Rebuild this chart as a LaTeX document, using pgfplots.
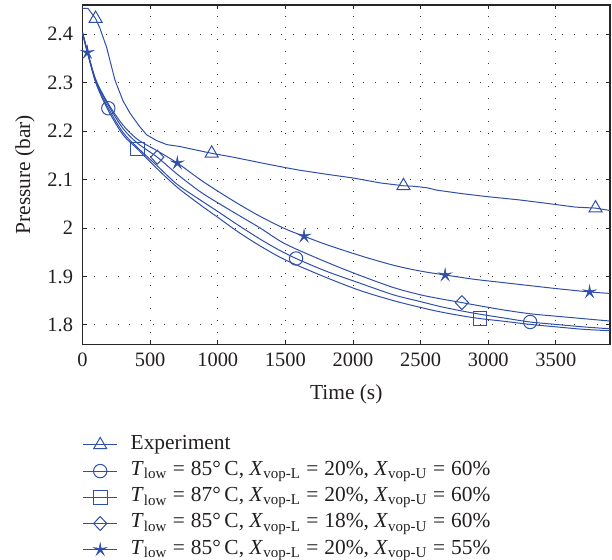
\documentclass[border=0pt]{standalone}
\usepackage{fontspec}
\setmainfont{Liberation Serif}
\usepackage{pgfplots}
\pgfplotsset{compat=1.18}
\definecolor{lc}{HTML}{2F4FA8}
\definecolor{txt}{HTML}{231F20}
\pgfdeclareplotmark{thinstar}{%
 \pgfpathmoveto{\pgfpointpolar{90}{\pgfplotmarksize}}%
 \pgfpathlineto{\pgfpointpolar{126}{0.25\pgfplotmarksize}}%
 \pgfpathlineto{\pgfpointpolar{162}{\pgfplotmarksize}}%
 \pgfpathlineto{\pgfpointpolar{198}{0.25\pgfplotmarksize}}%
 \pgfpathlineto{\pgfpointpolar{234}{\pgfplotmarksize}}%
 \pgfpathlineto{\pgfpointpolar{270}{0.25\pgfplotmarksize}}%
 \pgfpathlineto{\pgfpointpolar{306}{\pgfplotmarksize}}%
 \pgfpathlineto{\pgfpointpolar{342}{0.25\pgfplotmarksize}}%
 \pgfpathlineto{\pgfpointpolar{18}{\pgfplotmarksize}}%
 \pgfpathlineto{\pgfpointpolar{54}{0.25\pgfplotmarksize}}%
 \pgfpathclose
 \pgfusepathqfillstroke}
\newcommand{\fs}{\fontsize{20.5}{24}\selectfont}
\newcommand{\fl}{\fontsize{21.5}{25}\selectfont}
\newcommand{\eq}{\hspace{0.28em}=\hspace{0.28em}}
\begin{document}
\begin{tikzpicture}
\useasboundingbox (0bp,0bp) rectangle (612bp,560bp);
\begin{axis}[
  at={(82.5bp,215.7bp)}, anchor=south west,
  width=527.5bp, height=339.3bp, scale only axis,
  xmin=0, xmax=3900, ymin=1.76, ymax=2.46,
  xtick={0,500,1000,1500,2000,2500,3000,3500},
  ytick={1.8,1.9,2.0,2.1,2.2,2.3,2.4},
  /pgf/number format/assume math mode=true,
  /pgf/number format/1000 sep={},
  scaled x ticks=false,
  grid=major,
  major grid style={black!80, line width=0.9bp, dash pattern=on 0.9bp off 10.8bp},
  axis line style={black!85, line width=1.1bp},
  tick style={black!85, line width=0.9bp},
  major tick length=4.5bp,
  ticklabel style={font=\fs, text=txt},
  xticklabel style={yshift=-5bp},
  yticklabel style={xshift=-6bp},
  xlabel={Time (s)}, ylabel={Pressure (bar)},
  label style={font=\fl, text=txt},
  xlabel style={at={(axis description cs:0.5,-0.1465)}, anchor=center},
  ylabel style={at={(axis description cs:-0.109,0.5)}, anchor=center},
  every axis plot/.append style={color=lc, line width=1bp},
  legend style={at={(axis description cs:0,-0.262)}, anchor=north west,
    draw=none, fill=none, font=\fl, text=txt, inner sep=0pt,
    nodes={inner sep=2bp, text height=14bp, text depth=5bp},
    row sep=3.2bp,
    /tikz/every odd column/.append style={column sep=11bp}},
  legend cell align=left,
  legend image code/.code={
    \draw[#1,mark=none] (0bp,0bp) -- (34bp,0bp);
    \draw[#1,mark indices={1}] plot coordinates {(17bp,0bp)};
  },
]
% Experiment
\addplot[mark=triangle, mark size=7.5bp, mark indices={3,15,23,32},
  mark options={solid, fill=white, line width=1bp}] coordinates {
(0,2.453) (40,2.453) (97,2.432) (129,2.412) (179,2.372) (240,2.305) (300,2.262)
(351,2.237) (420,2.210) (475,2.192) (550,2.180) (623,2.172) (721,2.168) (820,2.162)
(955,2.154) (1115,2.146) (1362,2.132) (1510,2.124) (1609,2.119) (1800,2.111)
(2003,2.103) (2200,2.093) (2373,2.087) (2450,2.086) (2546,2.083) (2620,2.078)
(2800,2.071) (2979,2.065) (3226,2.058) (3399,2.052) (3645,2.043) (3793,2.041)
(3900,2.036)};
\addlegendentry{Experiment}
% Circle: T=85, XL=20, XU=60
\addplot[smooth, tension=0.5, mark=o, mark size=6.7bp, mark indices={4,14,23},
  mark options={solid, fill=white, line width=1bp}] coordinates {
(0,2.403) (40,2.360) (100,2.300) (191,2.247) (300,2.197) (406,2.166) (553,2.128)
(700,2.090) (869,2.058) (1000,2.034) (1150,2.006) (1313,1.977) (1450,1.955)
(1579,1.937) (1800,1.911) (2052,1.886) (2300,1.862) (2500,1.848) (2644,1.838)
(2800,1.829) (2940,1.822) (3100,1.815) (3310,1.806) (3500,1.801) (3700,1.796)
(3900,1.792)};
\addlegendentry{\textit{T}\textsubscript{low}\eq 85°\,C, \textit{X}\textsubscript{vop-L}\eq 20\%, \textit{X}\textsubscript{vop-U}\eq 60\%}
% Square: T=87
\addplot[smooth, tension=0.5, mark=square, mark size=6.8bp, mark indices={6,20},
  mark options={solid, fill=white, line width=1bp}] coordinates {
(0,2.403) (40,2.358) (100,2.298) (191,2.242) (300,2.192) (406,2.163) (553,2.122)
(700,2.084) (869,2.048) (1000,2.022) (1150,1.992) (1313,1.963) (1500,1.934)
(1800,1.898) (2052,1.871) (2300,1.850) (2500,1.836) (2644,1.827) (2800,1.819)
(2940,1.813) (3100,1.808) (3310,1.801) (3500,1.796) (3700,1.791) (3900,1.788)};
\addlegendentry{\textit{T}\textsubscript{low}\eq 87°\,C, \textit{X}\textsubscript{vop-L}\eq 20\%, \textit{X}\textsubscript{vop-U}\eq 60\%}
% Diamond: XL=18
\addplot[smooth, tension=0.5, mark=diamond, mark size=7bp, mark indices={7,19},
  mark options={solid, fill=white, line width=1bp, xscale=1.25}] coordinates {
(0,2.403) (40,2.362) (100,2.303) (191,2.253) (300,2.205) (406,2.175) (553,2.146)
(700,2.111) (869,2.075) (1000,2.052) (1150,2.027) (1313,2.000) (1500,1.967)
(1800,1.930) (2052,1.902) (2300,1.877) (2500,1.862) (2644,1.854) (2805,1.846)
(3088,1.832) (3310,1.823) (3500,1.818) (3700,1.813) (3900,1.808)};
\addlegendentry{\textit{T}\textsubscript{low}\eq 85°\,C, \textit{X}\textsubscript{vop-L}\eq 18\%, \textit{X}\textsubscript{vop-U}\eq 60\%}
% Star: XU=55
\addplot[smooth, tension=0.5, mark=thinstar, mark size=6.8bp, mark indices={2,8,14,19,24},
  mark options={solid, fill=lc, line width=0.5bp}] coordinates {
(0,2.403) (36,2.362) (100,2.305) (191,2.256) (300,2.212) (406,2.183) (553,2.159)
(701,2.134) (869,2.100) (1000,2.076) (1150,2.050) (1313,2.024) (1500,1.998)
(1638,1.983) (1800,1.966) (2052,1.943) (2300,1.923) (2500,1.911) (2681,1.903)
(2900,1.894) (3088,1.888) (3310,1.881) (3500,1.875) (3749,1.868) (3900,1.865)};
\addlegendentry{\textit{T}\textsubscript{low}\eq 85°\,C, \textit{X}\textsubscript{vop-L}\eq 20\%, \textit{X}\textsubscript{vop-U}\eq 55\%}
\end{axis}
\end{tikzpicture}
\end{document}
